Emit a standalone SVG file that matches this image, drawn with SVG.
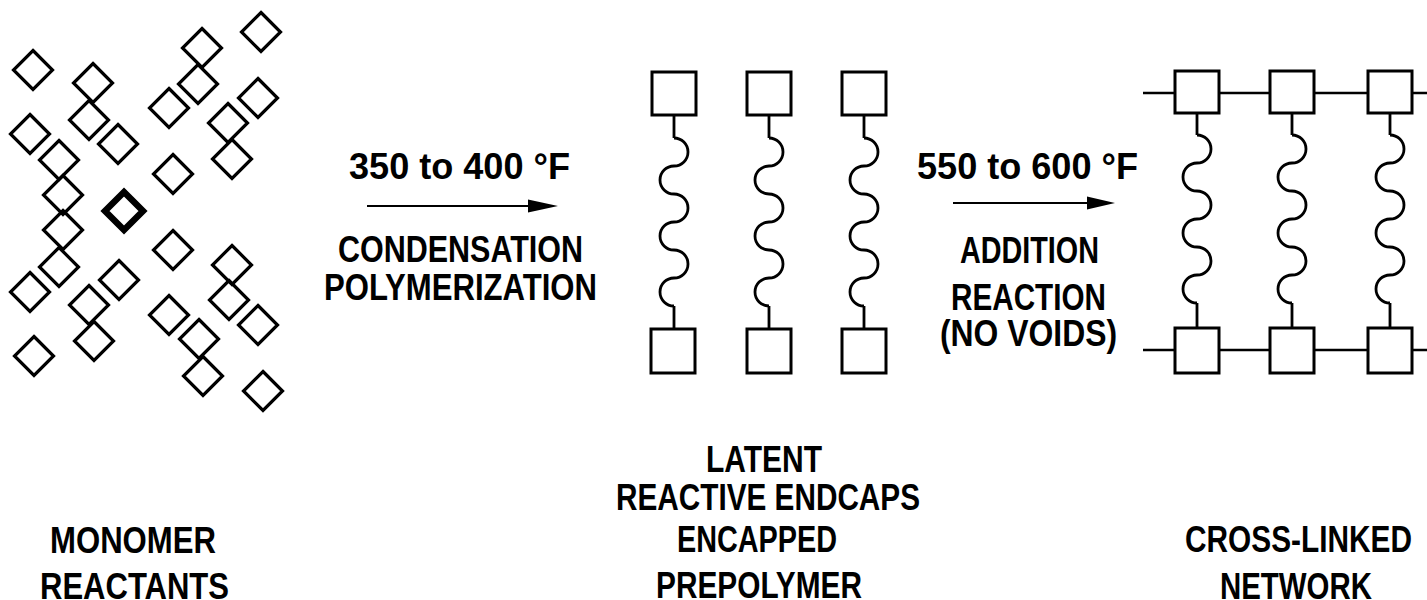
<svg xmlns="http://www.w3.org/2000/svg" xmlns:xlink="http://www.w3.org/1999/xlink" width="1427" height="600" viewBox="0 0 1427 600">
<style>
.dm{fill:none;stroke:#000;stroke-width:3.2;stroke-linejoin:miter}
.bd{fill:none;stroke:#000;stroke-width:6.5;stroke-linejoin:miter}
.sq{fill:#fff;stroke:#000;stroke-width:3}
.ch{fill:none;stroke:#000;stroke-width:2.8}
.ln{fill:none;stroke:#000;stroke-width:2.4}
.ar{stroke:#000;stroke-width:2.2;fill:none}
.ah{fill:#000}
.t{font-family:"Liberation Sans Narrow","Liberation Sans","DejaVu Sans Condensed",Arial,sans-serif;font-weight:bold;font-size:37px;fill:#000}
</style>
<defs>
<path id="d" class="dm" d="M0,-19.5 L19.5,0 L0,19.5 L-19.5,0 Z"/>
<path id="w" class="ch" d="M0,0 a14,14 0 0 1 0,28 a14,14 0 0 0 0,28 a14,14 0 0 1 0,28 a14,14 0 0 0 0,28 a14,14 0 0 1 0,28 a14,14 0 0 0 0,28"/>
</defs>
<rect width="1427" height="600" fill="#fff"/>

<g id="monomer-reactants">
<use xlink:href="#d" x="33" y="70"/>
<use xlink:href="#d" x="93" y="83"/>
<use xlink:href="#d" x="202" y="48"/>
<use xlink:href="#d" x="261" y="32"/>
<use xlink:href="#d" x="198" y="84"/>
<use xlink:href="#d" x="169" y="108"/>
<use xlink:href="#d" x="258" y="98"/>
<use xlink:href="#d" x="89" y="120"/>
<use xlink:href="#d" x="30" y="134"/>
<use xlink:href="#d" x="118" y="144"/>
<use xlink:href="#d" x="228" y="123"/>
<use xlink:href="#d" x="232" y="159"/>
<use xlink:href="#d" x="59" y="160"/>
<use xlink:href="#d" x="173" y="174"/>
<use xlink:href="#d" x="63" y="195"/>
<use xlink:href="#d" x="63" y="230"/>
<use xlink:href="#d" x="59" y="267"/>
<use xlink:href="#d" x="173" y="250"/>
<use xlink:href="#d" x="232" y="265"/>
<use xlink:href="#d" x="30" y="292"/>
<use xlink:href="#d" x="119" y="280"/>
<use xlink:href="#d" x="89" y="305"/>
<use xlink:href="#d" x="229" y="300"/>
<use xlink:href="#d" x="169" y="315"/>
<use xlink:href="#d" x="258" y="325"/>
<use xlink:href="#d" x="94" y="341"/>
<use xlink:href="#d" x="199" y="339"/>
<use xlink:href="#d" x="34" y="356"/>
<use xlink:href="#d" x="203" y="376"/>
<use xlink:href="#d" x="263" y="391"/>
<path class="bd" d="M124,192 L143,211 L124,230 L105,211 Z"/>
</g>

<g id="encapped-prepolymer">
<path class="ch" d="M674,115 V138 M674,306 V329 M769,115 V138 M769,306 V329 M864,115 V138 M864,306 V329"/>
<use xlink:href="#w" x="674" y="138"/>
<use xlink:href="#w" x="769" y="138"/>
<use xlink:href="#w" x="864" y="138"/>
<rect class="sq" x="652" y="72" width="44" height="43"/>
<rect class="sq" x="747" y="72" width="44" height="43"/>
<rect class="sq" x="842" y="72" width="44" height="43"/>
<rect class="sq" x="651" y="329" width="44" height="44"/>
<rect class="sq" x="747" y="329" width="44" height="44"/>
<rect class="sq" x="842" y="329" width="44" height="44"/>
</g>

<g id="cross-linked-network">
<path class="ln" d="M1143,93 H1427 M1143,350 H1427"/>
<path class="ch" d="M1197,113 V135 M1197,303 V328 M1292,113 V135 M1292,303 V328 M1390,113 V135 M1390,303 V328"/>
<use xlink:href="#w" x="1197" y="135"/>
<use xlink:href="#w" x="1292" y="135"/>
<use xlink:href="#w" x="1390" y="135"/>
<rect class="sq" x="1175" y="71" width="44" height="42"/>
<rect class="sq" x="1270" y="71" width="44" height="42"/>
<rect class="sq" x="1368" y="71" width="44" height="42"/>
<rect class="sq" x="1175" y="328" width="44" height="45"/>
<rect class="sq" x="1270" y="328" width="44" height="45"/>
<rect class="sq" x="1368" y="328" width="44" height="45"/>
</g>

<g id="connectors">
<line class="ar" x1="367" y1="206" x2="532" y2="206"/>
<polygon class="ah" points="558,206 528,199.5 528,212.5"/>
<line class="ar" x1="953" y1="203" x2="1092" y2="203"/>
<polygon class="ah" points="1115,203 1087,196.5 1087,209.5"/>
</g>

<g id="label-step1">
<text class="t" x="349" y="179" textLength="221" lengthAdjust="spacingAndGlyphs">350 to 400 °F</text>
<text class="t" x="338" y="262" textLength="245" lengthAdjust="spacingAndGlyphs">CONDENSATION</text>
<text class="t" x="324" y="300" textLength="273" lengthAdjust="spacingAndGlyphs">POLYMERIZATION</text>
</g>
<g id="label-step2">
<text class="t" x="917" y="179" textLength="221" lengthAdjust="spacingAndGlyphs">550 to 600 °F</text>
<text class="t" x="960" y="263" textLength="139" lengthAdjust="spacingAndGlyphs">ADDITION</text>
<text class="t" x="951" y="310" textLength="155" lengthAdjust="spacingAndGlyphs">REACTION</text>
<text class="t" x="940" y="346" textLength="177" lengthAdjust="spacingAndGlyphs">(NO VOIDS)</text>
</g>
<g id="label-endcaps">
<text class="t" x="706" y="472" textLength="116" lengthAdjust="spacingAndGlyphs">LATENT</text>
<text class="t" x="616" y="510" textLength="304" lengthAdjust="spacingAndGlyphs">REACTIVE ENDCAPS</text>
</g>
<g id="label-monomer">
<text class="t" x="50" y="553" textLength="166" lengthAdjust="spacingAndGlyphs">MONOMER</text>
<text class="t" x="40" y="599" textLength="189" lengthAdjust="spacingAndGlyphs">REACTANTS</text>
</g>
<g id="label-prepolymer">
<text class="t" x="677" y="552" textLength="160" lengthAdjust="spacingAndGlyphs">ENCAPPED</text>
<text class="t" x="656" y="598" textLength="206" lengthAdjust="spacingAndGlyphs">PREPOLYMER</text>
</g>
<g id="label-network">
<text class="t" x="1185" y="552" textLength="227" lengthAdjust="spacingAndGlyphs">CROSS-LINKED</text>
<text class="t" x="1220" y="599" textLength="152" lengthAdjust="spacingAndGlyphs">NETWORK</text>
</g>
</svg>
